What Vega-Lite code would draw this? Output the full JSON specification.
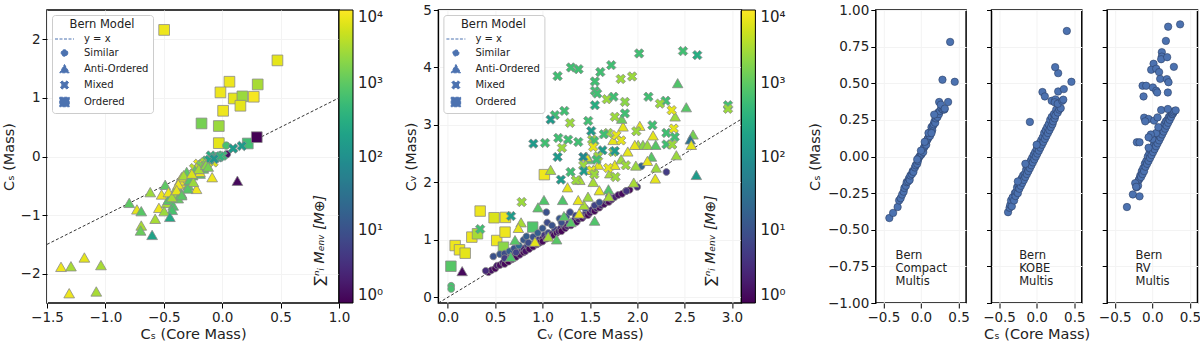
{
"$schema": "https://vega.github.io/schema/vega-lite/v6.json",
"padding": {"left": 0, "top": 2, "right": 0, "bottom": 0},
"bounds": "flush",
"spacing": 24.7,
"config": {
  "font": "DejaVu Sans",
  "view": {"stroke": "#000", "strokeWidth": 1.5},
  "axis": {"labelFont": "DejaVu Sans", "titleFont": "DejaVu Sans", "labelFontSize": 13.5, "titleFontSize": 14.5, "titleFontWeight": "normal", "labelColor": "#222", "titleColor": "#222", "tickColor": "#000", "tickSize": 5, "tickWidth": 1, "domain": false, "grid": true, "gridColor": "#f3f3f3", "labelFlush": false, "labelOverlap": false, "labelPadding": 2, "titlePadding": 4},
  "legend": {"labelFont": "DejaVu Sans", "titleFont": "DejaVu Sans"}
},
"resolve": {"scale": {"color": "independent", "shape": "independent"}, "legend": {"color": "independent", "shape": "independent"}},
"datasets": {
  "p1": [
    {"x":-0.497,"y":2.16,"m":8000,"t":"O"},{"x":0.473,"y":1.64,"m":7000,"t":"O"},{"x":0.062,"y":1.276,"m":8000,"t":"O"},{"x":0.304,"y":1.23,"m":3000,"t":"O"},{"x":-0.015,"y":1.094,"m":8000,"t":"O"},{"x":0.099,"y":0.99,"m":7000,"t":"O"},{"x":0.173,"y":1.026,"m":2500,"t":"O"},{"x":0.27,"y":1.02,"m":9000,"t":"O"},{"x":0.156,"y":0.866,"m":7000,"t":"O"},{"x":0.008,"y":0.78,"m":8000,"t":"O"},{"x":-0.177,"y":0.564,"m":1500,"t":"O"},{"x":-0.029,"y":0.52,"m":2500,"t":"O"},{"x":-0.029,"y":0.228,"m":7000,"t":"O"},{"x":0.219,"y":0.222,"m":600,"t":"O"},{"x":0.296,"y":0.33,"m":1,"t":"O"},
    {"x":0.035,"y":0.186,"m":700,"t":"S"},{"x":0.04,"y":0.04,"m":1.5,"t":"S"},{"x":-0.05,"y":0.0,"m":200,"t":"S"},{"x":-0.12,"y":-0.05,"m":150,"t":"S"},{"x":-0.02,"y":0.02,"m":100,"t":"S"},
    {"x":0.093,"y":0.137,"m":150,"t":"X"},{"x":0.168,"y":0.18,"m":150,"t":"X"},{"x":-0.098,"y":0.015,"m":300,"t":"X"},{"x":-0.033,"y":-0.014,"m":150,"t":"X"},{"x":0.004,"y":0.015,"m":500,"t":"X"},{"x":-0.167,"y":-0.127,"m":150,"t":"X"},{"x":-0.205,"y":-0.127,"m":8000,"t":"X"},{"x":-0.133,"y":-0.07,"m":600,"t":"X"},{"x":-0.076,"y":-0.099,"m":6000,"t":"X"},{"x":-0.06,"y":-0.03,"m":250,"t":"X"},{"x":-0.15,"y":-0.1,"m":3000,"t":"X"},{"x":-0.11,"y":-0.06,"m":200,"t":"X"},{"x":-0.02,"y":0.0,"m":400,"t":"X"},{"x":-0.18,"y":-0.15,"m":1500,"t":"X"},{"x":-0.24,"y":-0.2,"m":4000,"t":"X"},{"x":-0.07,"y":-0.04,"m":120,"t":"X"},
    {"x":0.13,"y":-0.42,"m":1.2,"t":"A"},{"x":-0.086,"y":-0.36,"m":8000,"t":"A"},{"x":-0.22,"y":-0.56,"m":8000,"t":"A"},{"x":-0.32,"y":-0.46,"m":7000,"t":"A"},{"x":-0.405,"y":-0.63,"m":2500,"t":"A"},{"x":-0.488,"y":-0.49,"m":1000,"t":"A"},{"x":-0.616,"y":-0.615,"m":2500,"t":"A"},{"x":-0.519,"y":-0.655,"m":8000,"t":"A"},{"x":-0.542,"y":-0.883,"m":8000,"t":"A"},{"x":-0.477,"y":-0.8,"m":3000,"t":"A"},{"x":-0.462,"y":-0.746,"m":900,"t":"A"},{"x":-0.42,"y":-0.843,"m":800,"t":"A"},{"x":-0.428,"y":-0.917,"m":700,"t":"A"},{"x":-0.497,"y":-0.94,"m":2500,"t":"A"},{"x":-0.448,"y":-1.037,"m":250,"t":"A"},{"x":-0.574,"y":-1.07,"m":3000,"t":"A"},{"x":-0.796,"y":-0.798,"m":1000,"t":"A"},{"x":-0.73,"y":-0.91,"m":7000,"t":"A"},{"x":-0.693,"y":-0.94,"m":900,"t":"A"},{"x":-0.693,"y":-1.185,"m":3000,"t":"A"},{"x":-0.699,"y":-1.27,"m":1200,"t":"A"},{"x":-0.6,"y":-1.345,"m":200,"t":"A"},{"x":-1.38,"y":-1.89,"m":8000,"t":"A"},{"x":-1.295,"y":-1.88,"m":3000,"t":"A"},{"x":-1.18,"y":-1.73,"m":7000,"t":"A"},{"x":-1.038,"y":-1.86,"m":3000,"t":"A"},{"x":-1.31,"y":-2.34,"m":8000,"t":"A"},{"x":-1.078,"y":-2.31,"m":3000,"t":"A"},{"x":-0.363,"y":-0.416,"m":8000,"t":"A"},{"x":-0.306,"y":-0.33,"m":3000,"t":"A"},{"x":-0.234,"y":-0.245,"m":1000,"t":"A"},{"x":-0.268,"y":-0.416,"m":800,"t":"A"},{"x":-0.348,"y":-0.36,"m":7000,"t":"A"},{"x":-0.39,"y":-0.53,"m":2500,"t":"A"},{"x":-0.29,"y":-0.5,"m":1000,"t":"A"},{"x":-0.348,"y":-0.64,"m":900,"t":"A"},{"x":-0.377,"y":-0.72,"m":1100,"t":"A"},{"x":-0.46,"y":-0.615,"m":8000,"t":"A"},{"x":-0.43,"y":-0.7,"m":3000,"t":"A"},{"x":-0.19,"y":-0.3,"m":900,"t":"A"},{"x":-0.163,"y":-0.19,"m":8000,"t":"A"},{"x":-0.304,"y":-0.27,"m":1000,"t":"A"},{"x":-0.33,"y":-0.326,"m":3000,"t":"A"},{"x":-0.253,"y":-0.326,"m":900,"t":"A"},{"x":-0.19,"y":-0.27,"m":8000,"t":"A"},{"x":-0.162,"y":-0.212,"m":1000,"t":"A"},{"x":-0.282,"y":-0.41,"m":900,"t":"A"},{"x":-0.247,"y":-0.44,"m":2500,"t":"A"},{"x":-0.376,"y":-0.48,"m":8000,"t":"A"},{"x":-0.39,"y":-0.58,"m":7000,"t":"A"},{"x":-0.295,"y":-0.553,"m":900,"t":"A"},{"x":-0.347,"y":-0.667,"m":1000,"t":"A"},{"x":-0.2,"y":-0.22,"m":3000,"t":"A"},{"x":-0.14,"y":-0.15,"m":2000,"t":"A"},{"x":-0.12,"y":-0.18,"m":1500,"t":"A"},{"x":-0.26,"y":-0.3,"m":6000,"t":"A"}
  ],
  "p2": [
    {"x":0.077,"y":0.9,"m":8000,"t":"O"},{"x":0.123,"y":0.826,"m":8000,"t":"O"},{"x":0.183,"y":0.767,"m":7000,"t":"O"},{"x":0.032,"y":0.54,"m":900,"t":"O"},{"x":0.253,"y":1.047,"m":8000,"t":"O"},{"x":0.313,"y":1.105,"m":3000,"t":"O"},{"x":0.341,"y":1.5,"m":8000,"t":"O"},{"x":0.488,"y":1.384,"m":6000,"t":"O"},{"x":0.608,"y":1.39,"m":8000,"t":"O"},{"x":0.516,"y":0.988,"m":8000,"t":"O"},{"x":0.604,"y":1.134,"m":8000,"t":"O"},{"x":0.587,"y":0.872,"m":2000,"t":"O"},{"x":0.896,"y":1.221,"m":800,"t":"O"},{"x":1.019,"y":2.134,"m":8000,"t":"O"},
    {"x":0.035,"y":0.2,"m":700,"t":"S"},{"x":0.035,"y":0.145,"m":700,"t":"S"},
    {"x":0.428,"y":0.436,"m":1.2,"t":"S"},{"x":0.46,"y":0.47,"m":1.5,"t":"S"},{"x":0.5,"y":0.5,"m":1.1,"t":"S"},{"x":0.52,"y":0.55,"m":1.8,"t":"S"},{"x":0.55,"y":0.56,"m":1.3,"t":"S"},{"x":0.58,"y":0.6,"m":2,"t":"S"},{"x":0.6,"y":0.58,"m":1.2,"t":"S"},{"x":0.62,"y":0.65,"m":1.6,"t":"S"},{"x":0.64,"y":0.62,"m":1.1,"t":"S"},{"x":0.66,"y":0.7,"m":2.5,"t":"S"},{"x":0.68,"y":0.66,"m":1.3,"t":"S"},{"x":0.7,"y":0.74,"m":3,"t":"S"},{"x":0.72,"y":0.7,"m":1.2,"t":"S"},{"x":0.74,"y":0.78,"m":2,"t":"S"},{"x":0.76,"y":0.74,"m":1.4,"t":"S"},{"x":0.78,"y":0.82,"m":4,"t":"S"},{"x":0.8,"y":0.78,"m":1.1,"t":"S"},{"x":0.8,"y":0.85,"m":2.5,"t":"S"},{"x":0.82,"y":0.8,"m":1.5,"t":"S"},{"x":0.84,"y":0.9,"m":6,"t":"S"},{"x":0.86,"y":0.84,"m":1.2,"t":"S"},{"x":0.88,"y":0.92,"m":3,"t":"S"},{"x":0.9,"y":0.88,"m":1.4,"t":"S"},{"x":0.92,"y":0.95,"m":2,"t":"S"},{"x":0.94,"y":0.92,"m":1.1,"t":"S"},{"x":0.95,"y":1.0,"m":5,"t":"S"},{"x":0.97,"y":0.95,"m":1.3,"t":"S"},{"x":1.0,"y":1.02,"m":2,"t":"S"},{"x":1.0,"y":0.97,"m":1.2,"t":"S"},{"x":1.02,"y":1.08,"m":4,"t":"S"},{"x":1.04,"y":1.02,"m":1.5,"t":"S"},{"x":1.06,"y":1.12,"m":8,"t":"S"},{"x":1.08,"y":1.05,"m":1.2,"t":"S"},{"x":1.1,"y":1.1,"m":2.5,"t":"S"},{"x":1.12,"y":1.08,"m":1.3,"t":"S"},{"x":1.13,"y":1.18,"m":6,"t":"S"},{"x":1.15,"y":1.12,"m":1.4,"t":"S"},{"x":1.17,"y":1.15,"m":2,"t":"S"},{"x":1.19,"y":1.2,"m":3,"t":"S"},{"x":1.2,"y":1.15,"m":1.1,"t":"S"},{"x":1.22,"y":1.25,"m":5,"t":"S"},{"x":1.24,"y":1.2,"m":1.3,"t":"S"},{"x":1.26,"y":1.24,"m":2,"t":"S"},{"x":1.28,"y":1.3,"m":4,"t":"S"},{"x":1.3,"y":1.25,"m":1.2,"t":"S"},{"x":1.32,"y":1.3,"m":1.8,"t":"S"},{"x":1.34,"y":1.35,"m":3,"t":"S"},{"x":1.36,"y":1.31,"m":1.2,"t":"S"},{"x":1.38,"y":1.36,"m":2,"t":"S"},{"x":1.4,"y":1.42,"m":6,"t":"S"},{"x":1.42,"y":1.38,"m":1.3,"t":"S"},{"x":1.44,"y":1.42,"m":2,"t":"S"},{"x":1.46,"y":1.48,"m":4,"t":"S"},{"x":1.48,"y":1.43,"m":1.1,"t":"S"},{"x":1.5,"y":1.47,"m":1.6,"t":"S"},{"x":1.52,"y":1.52,"m":3,"t":"S"},{"x":1.55,"y":1.5,"m":1.2,"t":"S"},{"x":1.57,"y":1.55,"m":2,"t":"S"},{"x":1.6,"y":1.56,"m":1.3,"t":"S"},{"x":1.62,"y":1.6,"m":2.5,"t":"S"},{"x":1.65,"y":1.62,"m":1.4,"t":"S"},{"x":1.68,"y":1.67,"m":3,"t":"S"},{"x":1.7,"y":1.66,"m":1.2,"t":"S"},{"x":1.73,"y":1.7,"m":1.8,"t":"S"},{"x":1.76,"y":1.74,"m":2.5,"t":"S"},{"x":1.8,"y":1.78,"m":1.5,"t":"S"},{"x":1.84,"y":1.8,"m":1.3,"t":"S"},{"x":1.88,"y":1.85,"m":2,"t":"S"},{"x":1.92,"y":1.87,"m":1.2,"t":"S"},{"x":2.0,"y":1.92,"m":3,"t":"S"},
    {"x":0.48,"y":0.71,"m":10,"t":"S"},{"x":0.55,"y":0.75,"m":12,"t":"S"},{"x":0.6,"y":0.76,"m":8,"t":"S"},{"x":0.65,"y":0.8,"m":15,"t":"S"},{"x":0.7,"y":0.85,"m":10,"t":"S"},{"x":0.75,"y":0.9,"m":20,"t":"S"},{"x":0.8,"y":1.0,"m":12,"t":"S"},{"x":0.83,"y":1.06,"m":15,"t":"S"},{"x":0.85,"y":0.95,"m":8,"t":"S"},{"x":0.9,"y":1.05,"m":10,"t":"S"},{"x":0.95,"y":1.12,"m":15,"t":"S"},{"x":1.0,"y":1.2,"m":12,"t":"S"},{"x":1.04,"y":1.48,"m":10,"t":"S"},{"x":1.05,"y":1.3,"m":8,"t":"S"},{"x":1.1,"y":1.25,"m":10,"t":"S"},{"x":1.18,"y":1.37,"m":12,"t":"S"},{"x":1.2,"y":1.3,"m":9,"t":"S"},{"x":1.25,"y":1.4,"m":10,"t":"S"},{"x":1.29,"y":1.48,"m":8,"t":"S"},{"x":1.35,"y":1.42,"m":7,"t":"S"},{"x":1.45,"y":1.55,"m":8,"t":"S"},{"x":1.55,"y":1.6,"m":6,"t":"S"},{"x":1.6,"y":1.65,"m":9,"t":"S"},{"x":1.7,"y":1.75,"m":6,"t":"S"},{"x":1.886,"y":1.85,"m":4,"t":"S"},{"x":2.044,"y":2.28,"m":20,"t":"S"},{"x":2.308,"y":2.18,"m":5,"t":"S"},{"x":0.6,"y":0.68,"m":5,"t":"S"},{"x":0.72,"y":0.78,"m":6,"t":"S"},{"x":0.4,"y":0.46,"m":3,"t":"S"},
    {"x":0.151,"y":0.448,"m":1.2,"t":"A"},{"x":2.427,"y":3.72,"m":800,"t":"A"},{"x":2.518,"y":3.3,"m":900,"t":"A"},{"x":2.4,"y":3.14,"m":2500,"t":"A"},{"x":2.027,"y":2.977,"m":7000,"t":"A"},{"x":2.167,"y":2.81,"m":7000,"t":"A"},{"x":2.01,"y":2.645,"m":3000,"t":"A"},{"x":2.06,"y":2.645,"m":2000,"t":"A"},{"x":2.107,"y":2.645,"m":2500,"t":"A"},{"x":2.195,"y":2.645,"m":900,"t":"A"},{"x":2.413,"y":2.465,"m":2500,"t":"A"},{"x":2.589,"y":2.826,"m":1500,"t":"A"},{"x":2.56,"y":2.74,"m":30,"t":"A"},{"x":2.571,"y":2.645,"m":7000,"t":"A"},{"x":2.624,"y":2.122,"m":150,"t":"A"},{"x":2.19,"y":2.06,"m":7000,"t":"A"},{"x":2.15,"y":2.44,"m":900,"t":"A"},{"x":2.107,"y":2.366,"m":7000,"t":"A"},{"x":1.985,"y":2.285,"m":2500,"t":"A"},{"x":1.963,"y":1.99,"m":3000,"t":"A"},{"x":1.974,"y":2.645,"m":7000,"t":"A"},{"x":1.85,"y":2.965,"m":7000,"t":"A"},{"x":1.836,"y":3.1,"m":1200,"t":"A"},{"x":1.696,"y":1.872,"m":800,"t":"A"},{"x":1.6,"y":1.855,"m":7000,"t":"A"},{"x":1.55,"y":1.326,"m":800,"t":"A"},{"x":1.535,"y":2.0,"m":3000,"t":"A"},{"x":1.394,"y":2.035,"m":3000,"t":"A"},{"x":1.264,"y":1.907,"m":7000,"t":"A"},{"x":1.212,"y":1.686,"m":800,"t":"A"},{"x":1.085,"y":2.21,"m":3000,"t":"A"},{"x":1.015,"y":1.686,"m":800,"t":"A"},{"x":0.952,"y":1.558,"m":900,"t":"A"},{"x":1.226,"y":1.407,"m":900,"t":"A"},{"x":0.773,"y":1.297,"m":3000,"t":"A"},{"x":0.745,"y":1.2,"m":7000,"t":"A"},{"x":0.709,"y":0.988,"m":900,"t":"A"},{"x":0.664,"y":0.698,"m":800,"t":"A"},{"x":0.92,"y":0.96,"m":7000,"t":"A"},{"x":1.149,"y":1.0,"m":900,"t":"A"},{"x":1.387,"y":1.453,"m":7000,"t":"A"},{"x":1.437,"y":1.6,"m":3000,"t":"A"},{"x":1.48,"y":1.744,"m":2500,"t":"A"},{"x":1.377,"y":1.686,"m":7000,"t":"A"},{"x":1.71,"y":2.15,"m":3000,"t":"A"},{"x":1.59,"y":2.3,"m":7000,"t":"A"},{"x":1.49,"y":2.395,"m":900,"t":"A"},{"x":1.9,"y":2.53,"m":7000,"t":"A"},{"x":1.763,"y":2.297,"m":7000,"t":"A"},{"x":1.535,"y":2.21,"m":3000,"t":"A"},{"x":1.83,"y":2.395,"m":2500,"t":"A"},{"x":1.745,"y":2.73,"m":7000,"t":"A"},{"x":1.465,"y":2.44,"m":7000,"t":"A"},{"x":1.3,"y":1.3,"m":900,"t":"A"},{"x":1.06,"y":1.05,"m":3000,"t":"A"},{"x":1.7,"y":1.75,"m":3000,"t":"A"},{"x":2.2,"y":2.25,"m":2500,"t":"A"},
    {"x":2.02,"y":4.244,"m":600,"t":"X"},{"x":2.483,"y":4.285,"m":600,"t":"X"},{"x":2.634,"y":4.215,"m":300,"t":"X"},{"x":1.3,"y":4.0,"m":600,"t":"X"},{"x":1.38,"y":3.97,"m":600,"t":"X"},{"x":1.159,"y":3.85,"m":600,"t":"X"},{"x":1.61,"y":3.92,"m":600,"t":"X"},{"x":1.725,"y":4.04,"m":600,"t":"X"},{"x":1.553,"y":3.756,"m":600,"t":"X"},{"x":1.826,"y":3.8,"m":2500,"t":"X"},{"x":1.946,"y":3.843,"m":2500,"t":"X"},{"x":1.553,"y":3.593,"m":600,"t":"X"},{"x":1.577,"y":3.546,"m":600,"t":"X"},{"x":1.553,"y":3.343,"m":300,"t":"X"},{"x":1.679,"y":3.448,"m":2500,"t":"X"},{"x":1.75,"y":3.49,"m":600,"t":"X"},{"x":1.87,"y":3.4,"m":2000,"t":"X"},{"x":1.763,"y":3.14,"m":2500,"t":"X"},{"x":1.87,"y":3.2,"m":600,"t":"X"},{"x":2.118,"y":3.49,"m":600,"t":"X"},{"x":2.3,"y":3.42,"m":600,"t":"X"},{"x":2.24,"y":3.37,"m":2500,"t":"X"},{"x":2.364,"y":3.256,"m":7000,"t":"X"},{"x":2.958,"y":3.343,"m":600,"t":"X"},{"x":2.958,"y":3.28,"m":2500,"t":"X"},{"x":1.23,"y":3.244,"m":600,"t":"X"},{"x":1.13,"y":3.17,"m":600,"t":"X"},{"x":1.085,"y":3.093,"m":150,"t":"X"},{"x":1.29,"y":3.035,"m":2500,"t":"X"},{"x":1.482,"y":3.07,"m":600,"t":"X"},{"x":1.514,"y":2.895,"m":150,"t":"X"},{"x":1.693,"y":2.86,"m":2500,"t":"X"},{"x":1.647,"y":2.837,"m":600,"t":"X"},{"x":1.78,"y":2.82,"m":7000,"t":"X"},{"x":2.16,"y":2.994,"m":600,"t":"X"},{"x":1.99,"y":2.89,"m":2500,"t":"X"},{"x":2.308,"y":2.86,"m":600,"t":"X"},{"x":2.385,"y":2.936,"m":7000,"t":"X"},{"x":2.396,"y":2.79,"m":600,"t":"X"},{"x":2.308,"y":2.66,"m":600,"t":"X"},{"x":2.37,"y":2.657,"m":2500,"t":"X"},{"x":0.903,"y":2.674,"m":150,"t":"X"},{"x":1.026,"y":2.686,"m":600,"t":"X"},{"x":1.166,"y":2.773,"m":600,"t":"X"},{"x":1.27,"y":2.744,"m":600,"t":"X"},{"x":1.377,"y":2.703,"m":600,"t":"X"},{"x":1.205,"y":2.6,"m":2500,"t":"X"},{"x":1.524,"y":2.744,"m":2500,"t":"X"},{"x":1.546,"y":2.72,"m":600,"t":"X"},{"x":1.535,"y":2.616,"m":7000,"t":"X"},{"x":1.633,"y":2.558,"m":150,"t":"X"},{"x":1.745,"y":2.529,"m":2500,"t":"X"},{"x":1.763,"y":2.546,"m":150,"t":"X"},{"x":1.159,"y":2.442,"m":150,"t":"X"},{"x":1.43,"y":2.442,"m":80,"t":"X"},{"x":1.587,"y":2.453,"m":2500,"t":"X"},{"x":1.57,"y":2.395,"m":600,"t":"X"},{"x":1.43,"y":2.297,"m":2500,"t":"X"},{"x":1.437,"y":2.198,"m":150,"t":"X"},{"x":1.296,"y":2.18,"m":600,"t":"X"},{"x":1.517,"y":2.21,"m":7000,"t":"X"},{"x":1.546,"y":2.14,"m":2500,"t":"X"},{"x":1.194,"y":2.047,"m":150,"t":"X"},{"x":1.352,"y":2.035,"m":2500,"t":"X"},{"x":1.693,"y":2.25,"m":7000,"t":"X"},{"x":1.77,"y":2.093,"m":2500,"t":"X"},{"x":1.879,"y":2.297,"m":2500,"t":"X"},{"x":0.78,"y":1.657,"m":2500,"t":"X"},{"x":0.667,"y":1.413,"m":150,"t":"X"},{"x":0.341,"y":1.186,"m":600,"t":"X"},{"x":1.83,"y":2.73,"m":7000,"t":"X"}
  ],
  "p3": [
    {"x":-0.42,"y":-0.42},{"x":-0.37,"y":-0.385},{"x":-0.31,"y":-0.345},{"x":-0.29,"y":-0.3},{"x":-0.27,"y":-0.285},{"x":-0.25,"y":-0.26},{"x":-0.23,"y":-0.24},{"x":-0.22,"y":-0.215},{"x":-0.2,"y":-0.2},{"x":-0.19,"y":-0.175},{"x":-0.17,"y":-0.17},{"x":-0.16,"y":-0.15},{"x":-0.15,"y":-0.16},{"x":-0.14,"y":-0.13},{"x":-0.12,"y":-0.12},{"x":-0.11,"y":-0.1},{"x":-0.1,"y":-0.105},{"x":-0.08,"y":-0.075},{"x":-0.07,"y":-0.06},{"x":-0.05,"y":-0.05},{"x":-0.04,"y":-0.03},{"x":-0.03,"y":-0.01},{"x":-0.02,"y":0.0},{"x":0.0,"y":0.01},{"x":0.01,"y":0.02},{"x":0.02,"y":0.04},{"x":0.03,"y":0.03},{"x":0.04,"y":0.06},{"x":0.05,"y":0.07},{"x":0.06,"y":0.09},{"x":0.07,"y":0.08},{"x":0.08,"y":0.11},{"x":0.09,"y":0.12},{"x":0.1,"y":0.13},{"x":0.11,"y":0.15},{"x":0.12,"y":0.14},{"x":0.13,"y":0.17},{"x":0.14,"y":0.2},{"x":0.15,"y":0.18},{"x":0.16,"y":0.21},{"x":0.17,"y":0.22},{"x":0.18,"y":0.24},{"x":0.19,"y":0.23},{"x":0.2,"y":0.26},{"x":0.21,"y":0.28},{"x":0.22,"y":0.27},{"x":0.23,"y":0.3},{"x":0.24,"y":0.29},{"x":0.25,"y":0.31},{"x":0.27,"y":0.33},{"x":0.29,"y":0.32},{"x":0.31,"y":0.32},{"x":0.176,"y":0.286},{"x":0.242,"y":0.372},{"x":0.264,"y":0.354},{"x":0.317,"y":0.327},{"x":0.361,"y":0.372},{"x":0.286,"y":0.524},{"x":0.388,"y":0.782},{"x":0.449,"y":0.51},{"x":-0.05,"y":-0.02},{"x":0.0,"y":0.04},{"x":0.05,"y":0.1},{"x":0.1,"y":0.16},{"x":0.14,"y":0.16}
  ],
  "p4": [
    {"x":-0.38,"y":-0.38},{"x":-0.36,"y":-0.35},{"x":-0.35,"y":-0.33},{"x":-0.34,"y":-0.3},{"x":-0.33,"y":-0.34},{"x":-0.32,"y":-0.28},{"x":-0.3,"y":-0.3},{"x":-0.29,"y":-0.25},{"x":-0.28,"y":-0.27},{"x":-0.27,"y":-0.24},{"x":-0.26,"y":-0.21},{"x":-0.25,"y":-0.25},{"x":-0.24,"y":-0.2},{"x":-0.23,"y":-0.22},{"x":-0.22,"y":-0.18},{"x":-0.21,"y":-0.2},{"x":-0.2,"y":-0.15},{"x":-0.19,"y":-0.18},{"x":-0.18,"y":-0.13},{"x":-0.17,"y":-0.16},{"x":-0.16,"y":-0.12},{"x":-0.15,"y":-0.14},{"x":-0.14,"y":-0.09},{"x":-0.13,"y":-0.12},{"x":-0.12,"y":-0.08},{"x":-0.11,"y":-0.1},{"x":-0.1,"y":-0.05},{"x":-0.09,"y":-0.08},{"x":-0.08,"y":-0.03},{"x":-0.07,"y":-0.06},{"x":-0.06,"y":-0.01},{"x":-0.05,"y":-0.04},{"x":-0.04,"y":0.01},{"x":-0.03,"y":-0.02},{"x":-0.02,"y":0.03},{"x":-0.01,"y":0.0},{"x":0.0,"y":0.05},{"x":0.01,"y":0.02},{"x":0.02,"y":0.07},{"x":0.03,"y":0.04},{"x":0.04,"y":0.09},{"x":0.05,"y":0.06},{"x":0.06,"y":0.11},{"x":0.07,"y":0.08},{"x":0.08,"y":0.13},{"x":0.09,"y":0.1},{"x":0.1,"y":0.16},{"x":0.11,"y":0.12},{"x":0.12,"y":0.18},{"x":0.13,"y":0.14},{"x":0.14,"y":0.2},{"x":0.15,"y":0.16},{"x":0.16,"y":0.22},{"x":0.17,"y":0.18},{"x":0.18,"y":0.25},{"x":0.19,"y":0.2},{"x":0.2,"y":0.27},{"x":0.21,"y":0.22},{"x":0.22,"y":0.24},{"x":0.23,"y":0.29},{"x":0.24,"y":0.26},{"x":0.25,"y":0.28},{"x":0.26,"y":0.32},{"x":0.28,"y":0.3},{"x":0.3,"y":0.32},{"x":0.32,"y":0.33},{"x":0.2,"y":0.38},{"x":0.25,"y":0.39},{"x":0.24,"y":0.37},{"x":0.28,"y":0.36},{"x":0.34,"y":0.38},{"x":0.354,"y":0.388},{"x":-0.09,"y":0.236},{"x":0.077,"y":0.44},{"x":0.109,"y":0.41},{"x":0.286,"y":0.444},{"x":0.361,"y":0.46},{"x":0.462,"y":0.51},{"x":0.286,"y":0.569},{"x":0.246,"y":0.61},{"x":0.401,"y":0.857},{"x":-0.25,"y":-0.17},{"x":-0.15,"y":-0.05},{"x":0.0,"y":0.08}
  ],
  "p5": [
    {"x":-0.21,"y":-0.21},{"x":-0.2,"y":-0.18},{"x":-0.19,"y":-0.2},{"x":-0.18,"y":-0.16},{"x":-0.17,"y":-0.15},{"x":-0.16,"y":-0.13},{"x":-0.15,"y":-0.14},{"x":-0.14,"y":-0.1},{"x":-0.13,"y":-0.12},{"x":-0.12,"y":-0.08},{"x":-0.11,"y":-0.1},{"x":-0.1,"y":-0.05},{"x":-0.09,"y":-0.07},{"x":-0.08,"y":-0.03},{"x":-0.07,"y":-0.05},{"x":-0.06,"y":0.0},{"x":-0.05,"y":-0.03},{"x":-0.04,"y":0.02},{"x":-0.03,"y":-0.01},{"x":-0.02,"y":0.04},{"x":-0.01,"y":0.01},{"x":0.0,"y":0.06},{"x":0.01,"y":0.03},{"x":0.02,"y":0.08},{"x":0.03,"y":0.05},{"x":0.04,"y":0.1},{"x":0.05,"y":0.07},{"x":0.06,"y":0.12},{"x":0.07,"y":0.09},{"x":0.08,"y":0.14},{"x":0.09,"y":0.11},{"x":0.1,"y":0.16},{"x":0.11,"y":0.13},{"x":0.12,"y":0.18},{"x":0.13,"y":0.15},{"x":0.14,"y":0.2},{"x":0.15,"y":0.17},{"x":0.16,"y":0.22},{"x":0.17,"y":0.19},{"x":0.18,"y":0.24},{"x":0.19,"y":0.21},{"x":0.2,"y":0.25},{"x":0.21,"y":0.23},{"x":0.22,"y":0.27},{"x":0.23,"y":0.25},{"x":0.24,"y":0.28},{"x":0.25,"y":0.27},{"x":0.26,"y":0.29},{"x":0.27,"y":0.29},{"x":0.28,"y":0.3},{"x":0.29,"y":0.31},{"x":0.31,"y":0.315},{"x":-0.05,"y":0.06},{"x":0.0,"y":0.12},{"x":0.05,"y":0.16},{"x":0.08,"y":0.2},{"x":-0.02,"y":0.15},
    {"x":0.369,"y":0.902},{"x":0.21,"y":0.886},{"x":0.18,"y":0.789},{"x":0.126,"y":0.712},{"x":0.126,"y":0.682},{"x":0.117,"y":0.664},{"x":0.197,"y":0.678},{"x":0.016,"y":0.633},{"x":0.286,"y":0.612},{"x":-0.016,"y":0.592},{"x":0.051,"y":0.599},{"x":0.09,"y":0.576},{"x":0.104,"y":0.53},{"x":0.193,"y":0.528},{"x":0.215,"y":0.507},{"x":0.206,"y":0.437},{"x":-0.13,"y":0.483},{"x":-0.082,"y":0.483},{"x":0.007,"y":0.471},{"x":0.051,"y":0.449},{"x":0.064,"y":0.437},{"x":-0.117,"y":0.41},{"x":0.117,"y":0.317},{"x":0.206,"y":0.324},{"x":-0.109,"y":0.265},{"x":-0.05,"y":0.256},{"x":-0.095,"y":0.24},{"x":0.024,"y":0.245},{"x":0.069,"y":0.267},{"x":-0.206,"y":0.097},{"x":-0.17,"y":0.097},{"x":-0.05,"y":0.131},{"x":-0.338,"y":-0.345},{"x":-0.259,"y":-0.259},{"x":-0.17,"y":-0.272},{"x":-0.228,"y":-0.182},{"x":-0.215,"y":-0.207}
  ]
},
"hconcat": [
  {
    "width": 292, "height": 293,
    "layer": [
      {"data": {"values": [{"x": -1.5, "y": -1.5}, {"x": 1.0, "y": 1.0}]},
       "mark": {"type": "line", "strokeDash": [3, 2], "color": "#333", "strokeWidth": 1},
       "encoding": {"x": {"field": "x", "type": "quantitative", "scale": {"domain": [-1.5, 1.0], "nice": false, "zero": false}, "axis": {"values": [-1.5, -1, -0.5, 0, 0.5, 1], "format": ".1f", "title": "Cₛ (Core Mass)"}}, "y": {"field": "y", "type": "quantitative", "scale": {"domain": [-2.5, 2.5], "nice": false, "zero": false}, "axis": {"values": [-2, -1, 0, 1, 2], "format": "d", "title": "Cₛ (Mass)", "titlePadding": 4}}}},
      {"data": {"name": "p1"},
       "mark": {"type": "point", "filled": true, "opacity": 1, "size": 115, "stroke": "#8a8a8a", "strokeWidth": 0.8},
       "encoding": {
         "x": {"field": "x", "type": "quantitative", "scale": {"domain": [-1.5, 1.0], "nice": false, "zero": false}, "axis": {"values": [-1.5, -1, -0.5, 0, 0.5, 1], "format": ".1f", "title": "Cₛ (Core Mass)"}},
         "y": {"field": "y", "type": "quantitative", "scale": {"domain": [-2.5, 2.5], "nice": false, "zero": false}, "axis": {"values": [-2, -1, 0, 1, 2], "format": "d", "title": "Cₛ (Mass)", "titlePadding": 4}},
         "color": {"field": "m", "type": "quantitative", "scale": {"type": "log", "domain": [1, 10000], "scheme": "viridis", "clamp": true},
           "legend": {"orient": "none", "legendX": 292, "legendY": 0, "direction": "vertical", "gradientLength": 293, "gradientThickness": 14, "gradientStrokeColor": "#000", "gradientStrokeWidth": 1, "padding": 0, "title": null, "values": [1, 10, 100, 1000, 10000], "labelFontSize": 15, "labelColor": "#222", "labelOffset": 5, "labelBaseline": "middle", "labelExpr": "datum.value >= 9999 ? '10⁴' : datum.value >= 999 ? '10³' : datum.value >= 99 ? '10²' : datum.value >= 9 ? '10¹' : '10⁰'", "encode": {"labels": {"baseline": {"value": "middle"}}}}},
         "shape": {"field": "t", "type": "nominal", "scale": {"domain": ["L", "S", "A", "X", "O"], "range": ["M-2,0L2,0", "M0.7,0A0.7,0.7,0,1,1,-0.7,0A0.7,0.7,0,1,1,0.7,0Z", "M0,-0.95L1,0.8L-1,0.8Z", "M-0.9,-0.45L-0.45,-0.9L0,-0.45L0.45,-0.9L0.9,-0.45L0.45,0L0.9,0.45L0.45,0.9L0,0.45L-0.45,0.9L-0.9,0.45L-0.45,0Z", "M-1,-1L1,-1L1,1L-1,1Z"]},
           "legend": {"orient": "top-left", "offset": 5, "title": "Bern Model", "titleAnchor": "middle", "titleFontSize": 11.5, "titleFontWeight": "normal", "titleColor": "#222", "titlePadding": 3, "labelFontSize": 10, "labelColor": "#222", "padding": 4, "strokeColor": "#ccc", "fillColor": "white", "cornerRadius": 3, "symbolSize": 90, "symbolOffset": 3, "labelOffset": 14, "rowPadding": 3, "symbolFillColor": "#4c72b0", "symbolStrokeColor": "#4c72b0", "symbolStrokeWidth": 1, "symbolDash": [3, 1.5], "symbolOpacity": 1,
             "labelExpr": "datum.value === 'L' ? 'y = x' : datum.value === 'S' ? 'Similar' : datum.value === 'A' ? 'Anti-Ordered' : datum.value === 'X' ? 'Mixed' : 'Ordered'"}}
       }},
      {"data": {"values": [{"x": 0.84, "y": -2.2, "label": "∑ⁿᵢ Mₑₙᵥ [M⊕]"}]},
       "mark": {"type": "text", "angle": 270, "align": "left", "baseline": "middle", "fontSize": 14, "fontStyle": "italic", "color": "#222"},
       "encoding": {"x": {"field": "x", "type": "quantitative", "scale": {"domain": [-1.5, 1.0], "nice": false, "zero": false}, "axis": {"values": [-1.5, -1, -0.5, 0, 0.5, 1], "format": ".1f", "title": "Cₛ (Core Mass)"}}, "y": {"field": "y", "type": "quantitative", "scale": {"domain": [-2.5, 2.5], "nice": false, "zero": false}, "axis": {"values": [-2, -1, 0, 1, 2], "format": "d", "title": "Cₛ (Mass)", "titlePadding": 4}}, "text": {"field": "label"}}}
    ]
  },
  {"width": 49.9, "height": 293, "data": {"values": []}, "mark": "point", "view": {"stroke": null}},
  {
    "width": 303, "height": 293,
    "layer": [
      {"data": {"values": [{"x": -0.1, "y": -0.1}, {"x": 3.1, "y": 3.1}]},
       "mark": {"type": "line", "strokeDash": [3, 2], "color": "#333", "strokeWidth": 1},
       "encoding": {"x": {"field": "x", "type": "quantitative", "scale": {"domain": [-0.1, 3.1], "nice": false, "zero": false}, "axis": {"values": [0, 0.5, 1, 1.5, 2, 2.5, 3], "format": ".1f", "title": "Cᵥ (Core Mass)"}}, "y": {"field": "y", "type": "quantitative", "scale": {"domain": [-0.1, 5], "nice": false, "zero": false}, "axis": {"values": [0, 1, 2, 3, 4, 5], "format": "d", "title": "Cᵥ (Mass)", "titlePadding": 4}}}},
      {"data": {"name": "p2"},
       "mark": {"type": "point", "filled": true, "opacity": 1, "size": 110, "stroke": "#8a8a8a", "strokeWidth": 0.8},
       "encoding": {
         "x": {"field": "x", "type": "quantitative", "scale": {"domain": [-0.1, 3.1], "nice": false, "zero": false}, "axis": {"values": [0, 0.5, 1, 1.5, 2, 2.5, 3], "format": ".1f", "title": "Cᵥ (Core Mass)"}},
         "y": {"field": "y", "type": "quantitative", "scale": {"domain": [-0.1, 5], "nice": false, "zero": false}, "axis": {"values": [0, 1, 2, 3, 4, 5], "format": "d", "title": "Cᵥ (Mass)", "titlePadding": 4}},
         "color": {"field": "m", "type": "quantitative", "scale": {"type": "log", "domain": [1, 10000], "scheme": "viridis", "clamp": true},
           "legend": {"orient": "none", "legendX": 303, "legendY": 0, "direction": "vertical", "gradientLength": 293, "gradientThickness": 14, "gradientStrokeColor": "#000", "gradientStrokeWidth": 1, "padding": 0, "title": null, "values": [1, 10, 100, 1000, 10000], "labelFontSize": 15, "labelColor": "#222", "labelOffset": 5, "labelBaseline": "middle", "labelExpr": "datum.value >= 9999 ? '10⁴' : datum.value >= 999 ? '10³' : datum.value >= 99 ? '10²' : datum.value >= 9 ? '10¹' : '10⁰'", "encode": {"labels": {"baseline": {"value": "middle"}}}}},
         "shape": {"field": "t", "type": "nominal", "scale": {"domain": ["L", "S", "A", "X", "O"], "range": ["M-2,0L2,0", "M0.65,0A0.65,0.65,0,1,1,-0.65,0A0.65,0.65,0,1,1,0.65,0Z", "M0,-0.95L1,0.8L-1,0.8Z", "M-0.9,-0.45L-0.45,-0.9L0,-0.45L0.45,-0.9L0.9,-0.45L0.45,0L0.9,0.45L0.45,0.9L0,0.45L-0.45,0.9L-0.9,0.45L-0.45,0Z", "M-1,-1L1,-1L1,1L-1,1Z"]},
           "legend": {"orient": "top-left", "offset": 5, "title": "Bern Model", "titleAnchor": "middle", "titleFontSize": 11.5, "titleFontWeight": "normal", "titleColor": "#222", "titlePadding": 3, "labelFontSize": 10, "labelColor": "#222", "padding": 4, "strokeColor": "#ccc", "fillColor": "white", "cornerRadius": 3, "symbolSize": 90, "symbolOffset": 3, "labelOffset": 14, "rowPadding": 3, "symbolFillColor": "#4c72b0", "symbolStrokeColor": "#4c72b0", "symbolStrokeWidth": 1, "symbolDash": [3, 1.5], "symbolOpacity": 1,
             "labelExpr": "datum.value === 'L' ? 'y = x' : datum.value === 'S' ? 'Similar' : datum.value === 'A' ? 'Anti-Ordered' : datum.value === 'X' ? 'Mixed' : 'Ordered'"}}
       }},
      {"data": {"values": [{"x": 2.78, "y": 0.2, "label": "∑ⁿᵢ Mₑₙᵥ [M⊕]"}]},
       "mark": {"type": "text", "angle": 270, "align": "left", "baseline": "middle", "fontSize": 14, "fontStyle": "italic", "color": "#222"},
       "encoding": {"x": {"field": "x", "type": "quantitative", "scale": {"domain": [-0.1, 3.1], "nice": false, "zero": false}, "axis": {"values": [0, 0.5, 1, 1.5, 2, 2.5, 3], "format": ".1f", "title": "Cᵥ (Core Mass)"}}, "y": {"field": "y", "type": "quantitative", "scale": {"domain": [-0.1, 5], "nice": false, "zero": false}, "axis": {"values": [0, 1, 2, 3, 4, 5], "format": "d", "title": "Cᵥ (Mass)", "titlePadding": 4}}, "text": {"field": "label"}}}
    ]
  },
  {"width": 84.6, "height": 293, "data": {"values": []}, "mark": "point", "view": {"stroke": null}},
  {
    "width": 90.3, "height": 293,
    "layer": [
      {"data": {"name": "p3"}, "mark": {"type": "circle", "size": 55, "color": "#4c72b0", "stroke": "#2b3f66", "strokeWidth": 0.6, "opacity": 1},
       "encoding": {"x": {"field": "x", "type": "quantitative", "scale": {"domain": [-0.6, 0.6], "nice": false, "zero": false}, "axis": {"values": [-0.5, 0, 0.5], "format": ".1f", "title": null}},
         "y": {"field": "y", "type": "quantitative", "scale": {"domain": [-1, 1], "nice": false, "zero": false}, "axis": {"values": [-1, -0.75, -0.5, -0.25, 0, 0.25, 0.5, 0.75, 1], "tickCount": 9, "format": ".2f", "labelOverlap": false, "title": "Cₛ (Mass)", "titlePadding": 5}}}},
      {"data": {"values": [{"x": -0.338, "y": -0.64, "label": "Bern\nCompact\nMultis"}]}, "mark": {"type": "text", "align": "left", "baseline": "top", "lineBreak": "\n", "fontSize": 11.5, "lineHeight": 13, "color": "#222"},
       "encoding": {"x": {"field": "x", "type": "quantitative", "scale": {"domain": [-0.6, 0.6], "nice": false, "zero": false}, "axis": {"values": [-0.5, 0, 0.5], "format": ".1f", "title": null}}, "y": {"field": "y", "type": "quantitative", "scale": {"domain": [-1, 1], "nice": false, "zero": false}, "axis": {"values": [-1, -0.75, -0.5, -0.25, 0, 0.25, 0.5, 0.75, 1], "tickCount": 9, "format": ".2f", "labelOverlap": false, "title": "Cₛ (Mass)", "titlePadding": 5}}, "text": {"field": "label"}}}
    ]
  },
  {
    "width": 90.3, "height": 293,
    "layer": [
      {"data": {"name": "p4"}, "mark": {"type": "circle", "size": 55, "color": "#4c72b0", "stroke": "#2b3f66", "strokeWidth": 0.6, "opacity": 1},
       "encoding": {"x": {"field": "x", "type": "quantitative", "scale": {"domain": [-0.6, 0.6], "nice": false, "zero": false}, "axis": {"values": [-0.5, 0, 0.5], "format": ".1f", "title": "Cₛ (Core Mass)"}},
         "y": {"field": "y", "type": "quantitative", "scale": {"domain": [-1, 1], "nice": false, "zero": false}, "axis": {"values": [-1, -0.75, -0.5, -0.25, 0, 0.25, 0.5, 0.75, 1], "tickCount": 9, "labels": false, "title": null}}}},
      {"data": {"values": [{"x": -0.232, "y": -0.64, "label": "Bern\nKOBE\nMultis"}]}, "mark": {"type": "text", "align": "left", "baseline": "top", "lineBreak": "\n", "fontSize": 11.5, "lineHeight": 13, "color": "#222"},
       "encoding": {"x": {"field": "x", "type": "quantitative", "scale": {"domain": [-0.6, 0.6], "nice": false, "zero": false}, "axis": {"values": [-0.5, 0, 0.5], "format": ".1f", "title": "Cₛ (Core Mass)"}}, "y": {"field": "y", "type": "quantitative", "scale": {"domain": [-1, 1], "nice": false, "zero": false}, "axis": {"values": [-1, -0.75, -0.5, -0.25, 0, 0.25, 0.5, 0.75, 1], "tickCount": 9, "labels": false, "title": null}}, "text": {"field": "label"}}}
    ]
  },
  {
    "width": 90.3, "height": 293,
    "layer": [
      {"data": {"name": "p5"}, "mark": {"type": "circle", "size": 55, "color": "#4c72b0", "stroke": "#2b3f66", "strokeWidth": 0.6, "opacity": 1},
       "encoding": {"x": {"field": "x", "type": "quantitative", "scale": {"domain": [-0.6, 0.6], "nice": false, "zero": false}, "axis": {"values": [-0.5, 0, 0.5], "format": ".1f", "title": null}},
         "y": {"field": "y", "type": "quantitative", "scale": {"domain": [-1, 1], "nice": false, "zero": false}, "axis": {"values": [-1, -0.75, -0.5, -0.25, 0, 0.25, 0.5, 0.75, 1], "tickCount": 9, "labels": false, "title": null}}}},
      {"data": {"values": [{"x": -0.224, "y": -0.64, "label": "Bern\nRV\nMultis"}]}, "mark": {"type": "text", "align": "left", "baseline": "top", "lineBreak": "\n", "fontSize": 11.5, "lineHeight": 13, "color": "#222"},
       "encoding": {"x": {"field": "x", "type": "quantitative", "scale": {"domain": [-0.6, 0.6], "nice": false, "zero": false}, "axis": {"values": [-0.5, 0, 0.5], "format": ".1f", "title": null}}, "y": {"field": "y", "type": "quantitative", "scale": {"domain": [-1, 1], "nice": false, "zero": false}, "axis": {"values": [-1, -0.75, -0.5, -0.25, 0, 0.25, 0.5, 0.75, 1], "tickCount": 9, "labels": false, "title": null}}, "text": {"field": "label"}}}
    ]
  }
]
}
